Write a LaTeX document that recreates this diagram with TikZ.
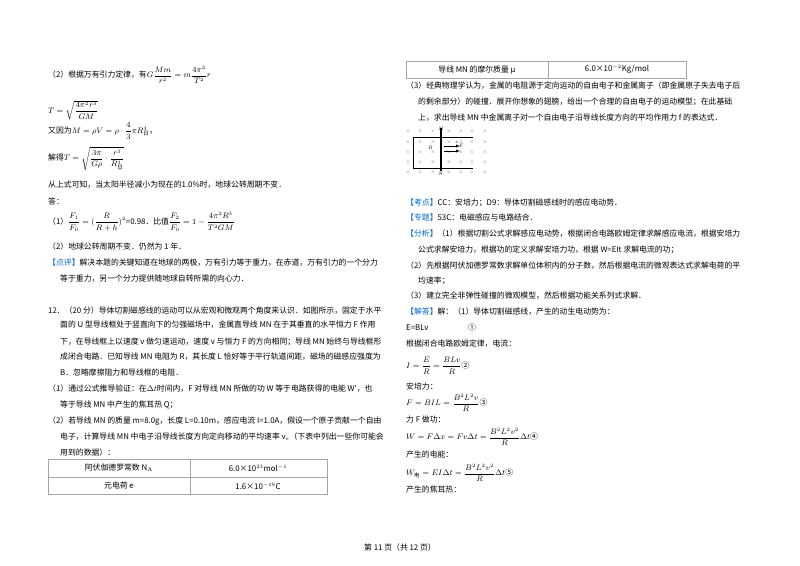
\documentclass[tikz,border=0pt]{standalone}
\usepackage{amsmath}
\usepackage{fontspec}
\newfontfamily\cjk{Noto Sans CJK SC}
\definecolor{kblue}{RGB}{0,102,204}
\tikzset{t/.style={anchor=west,inner sep=0pt,font=\cjk\fontsize{7.85}{10}\selectfont},
 tc/.style={inner sep=0pt,font=\cjk\fontsize{7.85}{10}\selectfont},
 tb/.style={draw=gray!70,line width=0.6pt},
 xx/.style={inner sep=0pt,font=\fontsize{5}{5}\selectfont,text=gray}}
\newcommand{\kb}[1]{\textcolor{kblue}{【#1】}}
\newcommand{\ri}{\text{\cjk 日}}
\newcommand{\di}{\text{\cjk 电}}
\begin{document}
\begin{tikzpicture}[x=1pt,y=-1pt]
\useasboundingbox[fill=white] (0,0) rectangle (800,565);
% left column
\node[t] (l1) at (48,75) {（2）根据万有引力定律，有$\displaystyle G\frac{Mm}{r^2}=m\frac{4\pi^2}{T^2}r$};
\node[t] (l2) at (48,110) {$\displaystyle T=\sqrt{\frac{4\pi^2r^3}{GM}}$};
\node[t] (l3) at (48,131) {又因为$\displaystyle M=\rho V=\rho\cdot\frac{4}{3}\pi R_{\ri}^{3}$，};
\node[t] (l4) at (48,159) {解得$\displaystyle T=\sqrt{\frac{3\pi}{G\rho}\cdot\frac{r^3}{R_{\ri}^{3}}}$};
\node[t] (l5) at (48,185) {从上式可知，当太阳半径减小为现在的1.0\%时，地球公转周期不变．};
\node[t] (l6) at (48,201) {答：};
\node[t] (l7) at (48,222) {（1）$\displaystyle\frac{F_1}{F_0}=(\frac{R}{R+h})^2$=0.98．比值$\displaystyle\frac{F_2}{F_0}=1-\frac{4\pi^2R^3}{T^2GM}$};
\node[t] (l8) at (48,247) {（2）地球公转周期不变．仍然为 1 年．};
\node[t] (l9) at (48,263) {\kb{点评}解决本题的关键知道在地球的两极，万有引力等于重力，在赤道，万有引力的一个分力};
\node[t] (l10) at (60,279) {等于重力，另一个分力提供随地球自转所需的向心力．};
\node[t] (q1) at (48,311) {12．（20 分）导体切割磁感线的运动可以从宏观和微观两个角度来认识．如图所示，固定于水平};
\node[t] (q2) at (60,325) {面的 U 型导线框处于竖直向下的匀强磁场中，金属直导线 MN 在于其垂直的水平恒力 F 作用};
\node[t] (q3) at (60,342) {下，在导线框上以速度 v 做匀速运动，速度 v 与恒力 F 的方向相同；导线 MN 始终与导线框形};
\node[t] (q4) at (60,357) {成闭合电路．已知导线 MN 电阻为 R，其长度 L 恰好等于平行轨道间距，磁场的磁感应强度为};
\node[t] (q5) at (60,372) {B．忽略摩擦阻力和导线框的电阻．};
\node[t] (q6) at (48,389) {（1）通过公式推导验证：在$\Delta t$时间内，F 对导线 MN 所做的功 W 等于电路获得的电能 W'，也};
\node[t] (q7) at (60,405) {等于导线 MN 中产生的焦耳热 Q；};
\node[t] (q8) at (48,421) {（2）若导线 MN 的质量 m=8.0g，长度 L=0.10m，感应电流 I=1.0A，假设一个原子贡献一个自由};
\node[t] (q9) at (60,437) {电子，计算导线 MN 中电子沿导线长度方向定向移动的平均速率 v$_e$（下表中列出一些你可能会};
\node[t] (q10) at (60,453) {用到的数据）：};
\draw[tb] (48,459) rectangle (327,494) (48,477) -- (327,477) (190,459) -- (190,494);
\node[tc] (c1) at (119,468) {阿伏伽德罗常数 N$_\mathrm{A}$};
\node[tc] (c2) at (258,468) {6.0×10$^{23}$mol$^{-1}$};
\node[tc] (c3) at (119,486) {元电荷 e};
\node[tc] (c4) at (258,486) {1.6×10$^{-19}$C};
\node[tc] (foot) at (400,548) {第 11 页（共 12 页）};
% right column
\draw[tb] (406,61) rectangle (686,78) (548,61) -- (548,78);
\node[tc] (c5) at (477,69.5) {导线 MN 的摩尔质量 μ};
\node[tc] (c6) at (617,69.5) {6.0×10$^{-2}$Kg/mol};
\node[t] (r1) at (406,86) {（3）经典物理学认为，金属的电阻源于定向运动的自由电子和金属离子（即金属原子失去电子后};
\node[t] (r2) at (418,102) {的剩余部分）的碰撞．展开你想象的翅膀，给出一个合理的自由电子的运动模型；在此基础};
\node[t] (r3) at (418,118) {上，求出导线 MN 中金属离子对一个自由电子沿导线长度方向的平均作用力 f 的表达式．};
% figure
\foreach \y in {131,142,152,162,172}{\foreach \x in {408,420,433,449,461,472,485}{\node[xx] at (\x,\y) {×};}}
\draw[line width=0.8pt] (473,137) -- (413,137) -- (413,168) -- (473,168);
\draw[line width=1.2pt] (441,128) -- (441,171);
\draw[-latex,line width=0.4pt] (444,146) -- (460,146);
\draw[-latex,line width=0.4pt] (444,151) -- (460,151);
\node[t,font=\itshape\fontsize{5}{5}\selectfont] (M) at (438,129) {M};
\node[t,font=\itshape\fontsize{5}{5}\selectfont] (N) at (438,174) {N};
\node[t,font=\itshape\fontsize{5}{5}\selectfont] (B) at (428,148) {B};
\node[t,font=\itshape\fontsize{5}{5}\selectfont] (v) at (455,142) {v};
\node[t,font=\itshape\fontsize{5}{5}\selectfont] (F) at (459,146) {F};
\node[t] (r4) at (406,203) {\kb{考点}CC：安培力；D9：导体切割磁感线时的感应电动势．};
\node[t] (r5) at (406,218) {\kb{专题}53C：电磁感应与电路结合．};
\node[t] (r6) at (406,234) {\kb{分析}（1）根据切割公式求解感应电动势，根据闭合电路欧姆定律求解感应电流，根据安培力};
\node[t] (r7) at (418,250) {公式求解安培力，根据功的定义求解安培力功，根据 W=EIt 求解电流的功；};
\node[t] (r8) at (406,266) {（2）先根据阿伏加德罗常数求解单位体积内的分子数，然后根据电流的微观表达式求解电荷的平};
\node[t] (r9) at (418,281) {均速率；};
\node[t] (r10) at (406,296) {（3）建立完全非弹性碰撞的微观模型，然后根据功能关系列式求解．};
\node[t] (r11) at (406,312) {\kb{解答}解：（1）导体切割磁感线，产生的动生电动势为：};
\node[t] (r12) at (406,328) {E=BLv};
\node[t] (r12b) at (468,328) {①};
\node[t] (r13) at (406,344) {根据闭合电路欧姆定律，电流：};
\node[t] (r14) at (406,366) {$\displaystyle I=\frac{E}{R}=\frac{BLv}{R}$②};
\node[t] (r15) at (406,387) {安培力：};
\node[t] (r16) at (406,403) {$\displaystyle F=BIL=\frac{B^2L^2v}{R}$③};
\node[t] (r17) at (406,420) {力 F 做功：};
\node[t] (r18) at (406,437) {$\displaystyle W=F\Delta x=Fv\Delta t=\frac{B^2L^2v^2}{R}\Delta t$④};
\node[t] (r19) at (406,455) {产生的电能：};
\node[t] (r20) at (406,473) {$\displaystyle W_{\di}=EI\Delta t=\frac{B^2L^2v^2}{R}\Delta t$⑤};
\node[t] (r21) at (406,490) {产生的焦耳热：};
\end{tikzpicture}
\end{document}
